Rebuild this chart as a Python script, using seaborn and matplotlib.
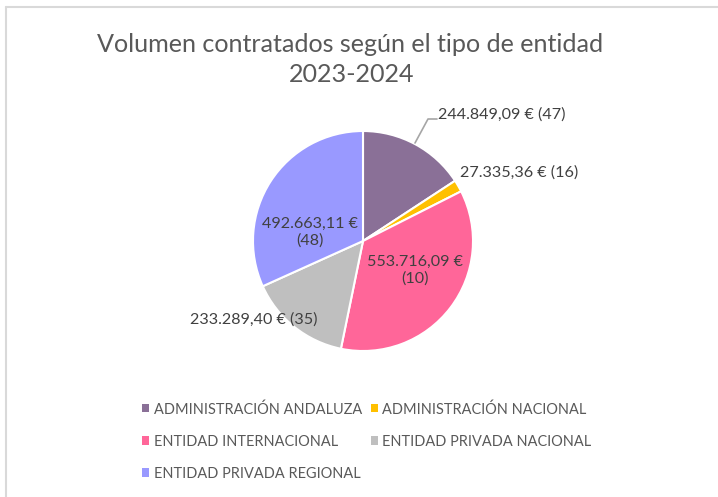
import matplotlib.pyplot as plt
from matplotlib.lines import Line2D
from matplotlib.patches import Patch
import seaborn as sns

# data
categories = ['ADMINISTRACIÓN ANDALUZA', 'ADMINISTRACIÓN NACIONAL',
              'ENTIDAD INTERNACIONAL', 'ENTIDAD PRIVADA NACIONAL',
              'ENTIDAD PRIVADA REGIONAL']
volumes = [244849.09, 27335.36, 553716.09, 233289.40, 492663.11]
contracts = [47, 16, 10, 35, 48]
value_labels = ['244.849,09 € (47)', '27.335,36 € (16)', '553.716,09 €\n(10)',
                '233.289,40 € (35)', '492.663,11 €\n(48)']

sns.set_style("white")
plt.rcParams['font.family'] = ['Lato', 'DejaVu Sans']
colors = sns.color_palette(['#8a7097', '#ffc000', '#ff6699', '#bfbfbf', '#9999ff'])

W, H = 718, 497
fig = plt.figure(figsize=(W / 100, H / 100), dpi=100)

# pie axes: centre (363, 241) px, radius 110 px
cx, cy, r = 363, 241, 110
ax = fig.add_axes([(cx - r) / W, 1 - (cy + r) / H, 2 * r / W, 2 * r / H])
ax.pie(volumes, colors=colors, startangle=90, counterclock=False, radius=1,
       wedgeprops=dict(edgecolor='white', linewidth=1.5))
ax.set_xlim(-1, 1)
ax.set_ylim(-1, 1)
ax.set_aspect('equal')
ax.axis('off')


def px(x, y):
    return (x - cx) / r, (cy - y) / r


lab_col = '#404040'
fs = 11.6
# outside labels
ax.plot(*zip(px(415, 143), px(428, 119), px(437, 119)), color='#a6a6a6', lw=1.2,
        clip_on=False)
ax.text(*px(438, 115), value_labels[0], ha='left', va='center', fontsize=fs,
        color=lab_col)
ax.text(*px(460, 173), value_labels[1], ha='left', va='center', fontsize=fs,
        color=lab_col)
ax.text(*px(317, 320), value_labels[3], ha='right', va='center', fontsize=fs,
        color=lab_col)
# inside labels
ax.text(*px(415, 270), value_labels[2], ha='center', va='center', fontsize=fs,
        color=lab_col, linespacing=1.25)
ax.text(*px(310, 232), value_labels[4], ha='center', va='center', fontsize=fs,
        color=lab_col, linespacing=1.25)

# title
fig.text(350 / W, 1 - 45 / H, 'Volumen contratados según el tipo de entidad',
         ha='center', va='center', fontsize=18.1, color='#595959')
fig.text(352 / W, 1 - 75 / H, '2023-2024', ha='center', va='center',
         fontsize=18.1, color='#595959')

# legend, filled row by row
handles = [Patch(facecolor=c, edgecolor='none') for c in colors]
order = [0, 2, 4, 1, 3]
fig.legend([handles[i] for i in order], [categories[i] for i in order],
           ncol=2, loc='upper left', bbox_to_anchor=(142 / W, 1 - 402 / H),
           frameon=False, fontsize=10.45, labelcolor='#595959',
           handlelength=0.5, handleheight=0.5, handletextpad=0.3,
           labelspacing=1.25, columnspacing=0.6, borderpad=0, borderaxespad=0)

# chart border
fig.add_artist(Line2D([6 / W, 1], [1 - 7 / H, 1 - 7 / H], color='#d9d9d9', lw=1.5))
fig.add_artist(Line2D([6 / W, 6 / W], [0, 1 - 7 / H], color='#d9d9d9', lw=1.5))

fig.savefig('out.png', dpi=100)
